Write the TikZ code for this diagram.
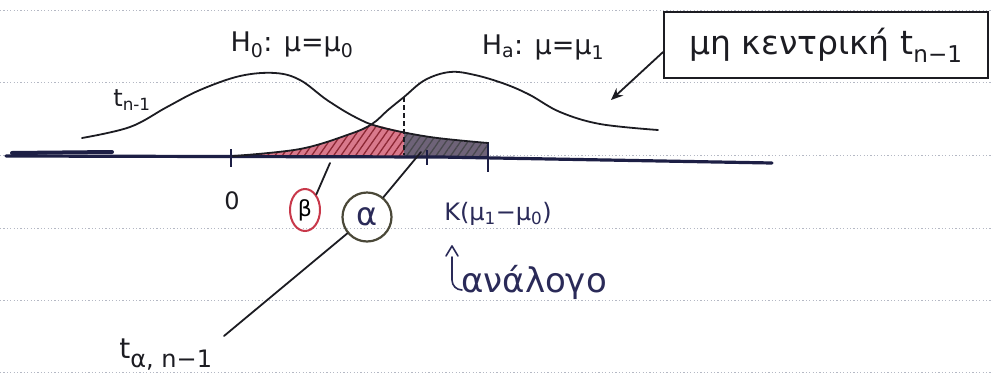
\documentclass[tikz,border=0pt]{standalone}
\usepackage{fontspec}
\setmainfont{DejaVu Sans}
\usetikzlibrary{patterns.meta,arrows.meta,shapes.geometric}
\definecolor{ink}{HTML}{1C1C22}
\definecolor{axisink}{HTML}{1D1F45}
\definecolor{navy}{HTML}{2A2A58}
\definecolor{rulecol}{HTML}{B4B8C4}
\definecolor{betared}{HTML}{C8384A}
\definecolor{betafill}{HTML}{D9798C}
\definecolor{alphafill}{HTML}{6E6378}
\definecolor{alphaink}{HTML}{4A4838}
\tikzset{
  rule/.style={rulecol, line width=0.9pt, dash pattern=on 1.2pt off 2.2pt},
  curve/.style={ink, line width=1.8pt, line cap=round},
  axisline/.style={axisink, line width=3.2pt, line cap=round},
  tick/.style={axisink, line width=2pt},
  hand/.style={ink, inner sep=0pt, font=\fontsize{24}{26}\selectfont},
  pointer/.style={ink, line width=1.8pt, line cap=round},
}
\begin{document}
\begin{tikzpicture}[x=1pt,y=-1pt]
\useasboundingbox (0,0) rectangle (993,381);
\fill[white] (0,0) rectangle (993,381);
% ruled notebook lines
\foreach \yy in {10,82,155,228,300,372} \draw[rule] (0,\yy) -- (993,\yy);

% shaded regions
\def\shadepath{plot[smooth] coordinates {(233,156) (270,153) (300,149) (330,141) (355,132) (372,124)} -- plot[smooth] coordinates {(372,124) (400,131) (430,137) (460,141) (488,143)} -- (488,157) -- (233,157) -- cycle}
\begin{scope}
  \clip (220,100) rectangle (404,170);
  \fill[betafill] \shadepath;
  \fill[pattern={Lines[angle=55,distance=6pt,line width=1.3pt]}, pattern color=betared!70!black] \shadepath;
\end{scope}
\begin{scope}
  \clip (404,100) rectangle (500,170);
  \fill[alphafill] \shadepath;
  \fill[pattern={Lines[angle=55,distance=6pt,line width=1.3pt]}, pattern color=ink!80] \shadepath;
\end{scope}

% axis
\draw[axisline] (6,156) -- (440,157) -- (772,163);
\draw[axisink, line width=4pt, line cap=round] (12,153) -- (112,152);
\draw[tick] (231,149) -- (231,167);
\draw[tick] (427,150) -- (427,165);
\draw[tick] (488,142) -- (488,172);

% curves
\draw[curve] plot[smooth, tension=0.6] coordinates {(82,138) (130,127) (167,107) (200,90) (240,76) (275,73) (300,80) (327,100) (355,117) (380,127) (430,137) (488,143)};
\draw[curve] plot[smooth, tension=0.6] coordinates {(233,156) (300,149) (350,134) (372,124) (388,110) (404,97) (425,80) (450,72) (475,75) (505,84) (530,95) (560,112) (600,124) (658,130)};
\draw[ink, line width=1.5pt, dash pattern=on 5pt off 3pt] (404,97) -- (404,155);

% labels
\node[hand, font=\fontsize{27}{29}\selectfont] (h0) at (292,45) {H\textsubscript{0}: μ=μ\textsubscript{0}};
\node[hand, font=\fontsize{27}{29}\selectfont] (ha) at (543,47) {H\textsubscript{a}: μ=μ\textsubscript{1}};
\node[hand] (tn) at (132,100) {t\textsubscript{n-1}};
\node[hand] (zero) at (232,201) {0};
\node[hand, text=navy] (K) at (498,214) {K(μ\textsubscript{1}−μ\textsubscript{0})};
\node[hand, text=navy, anchor=west, font=\fontsize{34}{36}\selectfont] (anal) at (461,282) {ανάλογο};
\node[hand, font=\fontsize{28}{30}\selectfont] (ta) at (166,355) {t\textsubscript{\fontsize{24}{26}\selectfont α, n−1}};

% circled beta and alpha
\node[ellipse, draw=betared, line width=2pt, minimum width=30pt, minimum height=42pt, inner sep=0pt, font=\fontsize{22}{24}\selectfont] (beta) at (305,210) {β};
\node[circle, draw=alphaink, line width=2.2pt, minimum size=49pt, inner sep=0pt, text=navy, font=\fontsize{32}{34}\selectfont] (alpha) at (367,217) {α};

% pointers
\coordinate (betaEnd) at (330,163);
\draw[pointer] (betaEnd) -- (beta.north east);
\coordinate (alphaTop) at (421,152);
\coordinate (alphaLow) at (224,336);
\draw[pointer] (alphaTop) -- (alpha) -- (alphaLow);

% hook arrow from "analogo" up to K
\draw[navy, line width=1.6pt, line cap=round, line join=round] (452,257) -- (452,280) to[out=-90, in=180] (462,290);
\draw[navy, line width=1.6pt, line cap=round, line join=round] (446,256) -- (452,246) -- (458,256);

% box
\node[draw=ink, line width=1.8pt, minimum width=324pt, minimum height=66pt, inner sep=0pt, font=\fontsize{33}{35}\selectfont, text=ink] (box) at (826,45) {μη κεντρική t\textsubscript{n−1}};
\coordinate (arrE) at (611,100);
\draw[pointer, -{Stealth[length=12pt,width=10pt]}] ([yshift=-7pt]box.west) -- (arrE);
\end{tikzpicture}
\end{document}
